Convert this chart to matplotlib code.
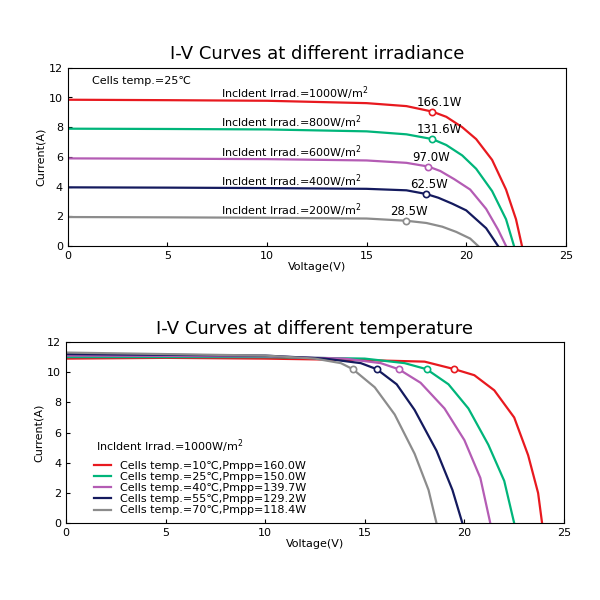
import matplotlib
matplotlib.use("Agg")
import matplotlib.pyplot as plt

colors = ["#e8191f", "#00b57a", "#b45cb4", "#141a5e", "#8c8c8c"]

# top chart: irradiance curves
irr_labels = ["1000", "800", "600", "400", "200"]
irr_power = ["166.1W", "131.6W", "97.0W", "62.5W", "28.5W"]
irr_v = [
    [0, 5, 10, 15, 17, 18.3, 19.0, 19.8, 20.5, 21.3, 22.0, 22.5, 22.8],
    [0, 5, 10, 15, 17, 18.3, 19.0, 19.8, 20.5, 21.3, 22.0, 22.4],
    [0, 5, 10, 15, 17, 18.1, 18.7, 19.4, 20.2, 21.0, 21.6, 22.0],
    [0, 5, 10, 15, 17, 18.0, 18.6, 19.3, 20.0, 21.0, 21.6],
    [0, 5, 10, 15, 17, 18.0, 18.8, 19.5, 20.2, 20.6],
]
irr_i = [
    [9.85, 9.82, 9.78, 9.62, 9.42, 9.05, 8.7, 8.0, 7.2, 5.8, 3.8, 1.8, 0],
    [7.9, 7.88, 7.85, 7.72, 7.52, 7.2, 6.8, 6.1, 5.2, 3.7, 1.8, 0],
    [5.9, 5.88, 5.85, 5.76, 5.6, 5.35, 5.05, 4.5, 3.8, 2.5, 1.1, 0],
    [3.95, 3.93, 3.9, 3.85, 3.75, 3.5, 3.25, 2.85, 2.4, 1.2, 0],
    [1.95, 1.93, 1.9, 1.85, 1.7, 1.55, 1.3, 0.95, 0.5, 0],
]
irr_mpp = [(18.3, 9.05), (18.3, 7.2), (18.1, 5.35), (18.0, 3.5), (17.0, 1.68)]

# bottom chart: temperature curves
temp_labels = ["10", "25", "40", "55", "70"]
temp_pmpp = ["160.0", "150.0", "139.7", "129.2", "118.4"]
temp_v = [
    [0, 5, 10, 15, 18, 19.5, 20.5, 21.5, 22.5, 23.2, 23.7, 23.9],
    [0, 5, 10, 15, 17, 18.1, 19.2, 20.2, 21.2, 22.0, 22.5],
    [0, 5, 10, 14, 15.8, 16.7, 17.8, 19.0, 20.0, 20.8, 21.3],
    [0, 5, 10, 13, 14.8, 15.6, 16.6, 17.5, 18.6, 19.4, 19.9],
    [0, 5, 10, 12.5, 13.8, 14.4, 15.5, 16.5, 17.5, 18.2, 18.6],
]
temp_i = [
    [10.9, 10.95, 10.9, 10.8, 10.7, 10.2, 9.8, 8.8, 7.0, 4.5, 2.0, 0],
    [11.0, 11.0, 11.0, 10.9, 10.6, 10.2, 9.2, 7.6, 5.2, 2.8, 0],
    [11.1, 11.08, 11.05, 10.9, 10.6, 10.2, 9.3, 7.6, 5.5, 3.0, 0],
    [11.2, 11.15, 11.1, 10.9, 10.6, 10.2, 9.2, 7.5, 4.8, 2.2, 0],
    [11.3, 11.2, 11.1, 10.9, 10.6, 10.2, 9.0, 7.2, 4.6, 2.2, 0],
]
temp_mpp = [(19.5, 10.2), (18.1, 10.2), (16.7, 10.2), (15.6, 10.2), (14.4, 10.2)]

fig = plt.figure(figsize=(6, 6), dpi=100)

# top axes
ax1 = fig.add_axes([0.113, 0.59, 0.83, 0.297])
for k in range(5):
    ax1.plot(irr_v[k], irr_i[k], color=colors[k], lw=1.6)
    mx, my = irr_mpp[k]
    ax1.plot(mx, my, "o", mfc="white", mec=colors[k], ms=4.5, mew=1.2)
    ax1.text(mx - 0.8, my + 0.4, irr_power[k], fontsize=8.5)
    ax1.text(7.7, irr_i[k][0] + 0.15, "Incldent Irrad.=" + irr_labels[k] + "W/m$^2$", fontsize=8)
ax1.text(1.2, 10.9, "Cells temp.=25\u2103", fontsize=8)
ax1.set_xlim(0, 25)
ax1.set_ylim(0, 12)
ax1.set_xticks([0, 5, 10, 15, 20, 25])
ax1.set_yticks(range(0, 13, 2))
ax1.set_xlabel("Voltage(V)", fontsize=8, labelpad=1)
ax1.set_ylabel("Current(A)", fontsize=8, labelpad=2)
ax1.set_title("I-V Curves at different irradiance", fontsize=13)
ax1.tick_params(labelsize=8, direction="in", length=3)

# bottom axes
ax2 = fig.add_axes([0.11, 0.128, 0.83, 0.302])
for k in range(5):
    ax2.plot(temp_v[k], temp_i[k], color=colors[k], lw=1.6,
             label="Cells temp.=" + temp_labels[k] + "\u2103,Pmpp=" + temp_pmpp[k] + "W")
    mx, my = temp_mpp[k]
    ax2.plot(mx, my, "o", mfc="white", mec=colors[k], ms=4.5, mew=1.2)
ax2.text(1.5, 4.8, "Incldent Irrad.=1000W/m$^2$", fontsize=8)
ax2.legend(loc="lower left", bbox_to_anchor=(0.04, 0.0), frameon=False, fontsize=8,
           handlelength=1.6, labelspacing=0.1, borderpad=0.2)
ax2.set_xlim(0, 25)
ax2.set_ylim(0, 12)
ax2.set_xticks([0, 5, 10, 15, 20, 25])
ax2.set_yticks(range(0, 13, 2))
ax2.set_xlabel("Voltage(V)", fontsize=8, labelpad=1)
ax2.set_ylabel("Current(A)", fontsize=8, labelpad=2)
ax2.set_title("I-V Curves at different temperature", fontsize=13)
ax2.tick_params(labelsize=8, direction="in", length=3)

fig.savefig("out.png", dpi=100)
